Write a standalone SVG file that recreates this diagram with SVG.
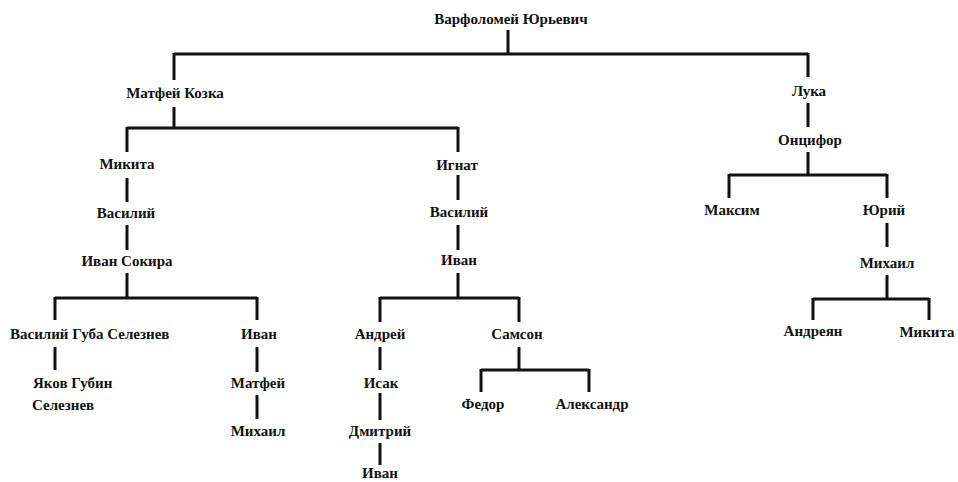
<svg xmlns="http://www.w3.org/2000/svg" width="958" height="482" viewBox="0 0 958 482">
<style>
  text { font-family: "Liberation Serif", "Times New Roman", serif; font-size: 15px; font-weight: bold; fill: #111; text-anchor: middle; }
  text.l { text-anchor: start; }
  .c path { fill: none; stroke: #111; stroke-width: 3; stroke-linecap: butt; }
</style>
<rect width="958" height="482" fill="#fff"/>
<g class="c" id="connectors">
  <path d="M508 30V54M174 54H808M174 53V80M808 53V77"/>
  <path d="M174 107V128M127 128H458M127 127V152M458 127V152"/>
  <path d="M127 178V202M127 225V250M127 273V298M55 298H257M55 297V320M257 297V320"/>
  <path d="M55 347V370M257 347V372M257 395V419"/>
  <path d="M458 175V200M458 225V250M458 273V298M380 298H519M380 297V322M519 297V322"/>
  <path d="M380 347V370M380 393V420M380 443V465"/>
  <path d="M519 347V370M481 370H589M481 369V392M589 369V392"/>
  <path d="M808 103V127M808 152V175M729 175H887M729 174V198M887 174V198M887 223V247"/>
  <path d="M887 275V299M813 299H929M813 298V320M929 298V320"/>
</g>
<g id="n-varfolomey"><text x="511" y="24">Варфоломей Юрьевич</text></g>
<g id="n-matfey-kozka"><text x="175" y="98">Матфей Козка</text></g>
<g id="n-luka"><text x="809" y="96">Лука</text></g>
<g id="n-oncifor"><text x="810" y="145">Онцифор</text></g>
<g id="n-mikita1"><text x="127" y="169">Микита</text></g>
<g id="n-vasiliy1"><text x="126" y="218">Василий</text></g>
<g id="n-ivan-sokira"><text x="127" y="266">Иван Сокира</text></g>
<g id="n-vasiliy-guba"><text class="l" x="10" y="339">Василий Губа Селезнев</text></g>
<g id="n-yakov"><text class="l" x="33" y="388">Яков Губин</text><text class="l" x="32" y="410">Селезнев</text></g>
<g id="n-ivan1"><text x="259" y="339">Иван</text></g>
<g id="n-matfey"><text x="258" y="388">Матфей</text></g>
<g id="n-mikhail1"><text x="258" y="436">Михаил</text></g>
<g id="n-ignat"><text x="457" y="170">Игнат</text></g>
<g id="n-vasiliy2"><text x="459" y="217">Василий</text></g>
<g id="n-ivan2"><text x="459" y="265">Иван</text></g>
<g id="n-andrey"><text x="380" y="339">Андрей</text></g>
<g id="n-samson"><text x="517" y="339">Самсон</text></g>
<g id="n-isak"><text x="381" y="388">Исак</text></g>
<g id="n-dmitriy"><text x="380" y="436">Дмитрий</text></g>
<g id="n-ivan3"><text x="380" y="478">Иван</text></g>
<g id="n-fedor"><text x="483" y="409">Федор</text></g>
<g id="n-aleksandr"><text x="592" y="409">Александр</text></g>
<g id="n-maksim"><text x="732" y="215">Максим</text></g>
<g id="n-yuriy"><text x="884" y="215">Юрий</text></g>
<g id="n-mikhail2"><text x="887" y="268">Михаил</text></g>
<g id="n-andreyan"><text x="813" y="336">Андреян</text></g>
<g id="n-mikita2"><text x="927" y="337">Микита</text></g>
</svg>
